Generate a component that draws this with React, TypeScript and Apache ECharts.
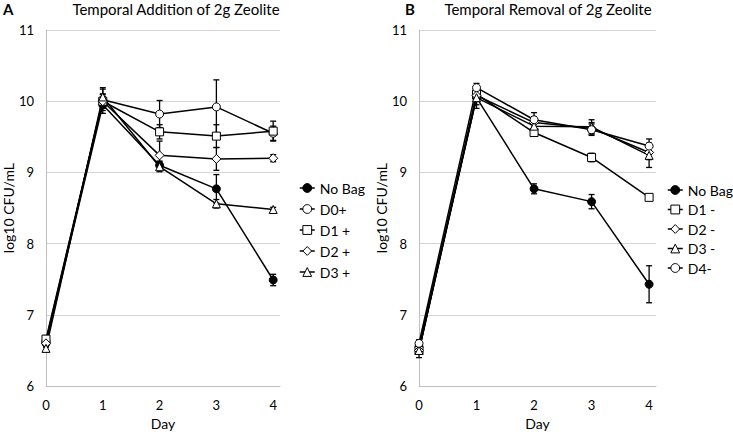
import React, { useEffect, useRef } from "react";
import * as echarts from "echarts";

const days = [0, 1, 2, 3, 4];

// Panel A: Temporal Addition
const namesA = ["No Bag", "D0+", "D1 +", "D2 +", "D3 +"];
const noBagA = [6.6, 9.95, 9.1, 8.77, 7.49];
const noBagAErr = [0.05, 0.12, 0.06, 0.2, 0.08];
const d0A = [6.63, 10.02, 9.82, 9.92, 9.55];
const d0AErr = [0.05, 0.15, 0.19, 0.38, 0.1];
const d1A = [6.66, 10.0, 9.57, 9.51, 9.58];
const d1AErr = [0.05, 0.1, 0.1, 0.16, 0.14];
const d2A = [6.6, 10.0, 9.24, 9.19, 9.2];
const d2AErr = [0.05, 0.1, 0.2, 0.16, 0.05];
const d3A = [6.53, 10.06, 9.08, 8.56, 8.48];
const d3AErr = [0.05, 0.13, 0.07, 0.06, 0.03];

// Panel B: Temporal Removal
const namesB = ["No Bag", "D1 -", "D2 -", "D3 -", "D4-"];
const noBagB = [6.55, 10.05, 8.77, 8.59, 7.43];
const noBagBErr = [0.08, 0.1, 0.07, 0.1, 0.26];
const d1B = [6.5, 10.1, 9.56, 9.21, 8.65];
const d1BErr = [0.05, 0.05, 0.05, 0.06, 0.03];
const d2B = [6.5, 10.08, 9.7, 9.62, 9.28];
const d2BErr = [0.05, 0.05, 0.08, 0.08, 0.1];
const d3B = [6.5, 10.05, 9.65, 9.64, 9.24];
const d3BErr = [0.1, 0.15, 0.1, 0.1, 0.17];
const d4B = [6.6, 10.19, 9.74, 9.6, 9.37];
const d4BErr = [0.05, 0.06, 0.1, 0.08, 0.1];

const titleA = "Temporal Addition of 2g Zeolite";
const titleB = "Temporal Removal of 2g Zeolite";

const FONT = "Lato, 'Open Sans', sans-serif";

const symbolFor: Record<string, [string, number, string]> = {
  nobag: ["circle", 8, "#000"],
  circle: ["circle", 8, "#fff"],
  square: ["rect", 8, "#fff"],
  diamond: ["diamond", 9, "#fff"],
  triangle: ["triangle", 8, "#fff"],
};

function lineSeries(name: string, vals: number[], kind: string, idx: number) {
  const [sym, size, fill] = symbolFor[kind];
  return {
    type: "line",
    name,
    xAxisIndex: idx,
    yAxisIndex: idx,
    data: days.map((d, i) => [d, vals[i]]),
    symbol: sym,
    symbolSize: size,
    showAllSymbol: true,
    lineStyle: { color: "#000", width: 1.5 },
    itemStyle: { color: fill, borderColor: "#000", borderWidth: 1 },
    z: 3,
  };
}

function errSeries(vals: number[], errs: number[], idx: number) {
  return {
    type: "custom",
    xAxisIndex: idx,
    yAxisIndex: idx,
    z: 2,
    silent: true,
    data: days.map((d, i) => [d, vals[i], errs[i]]),
    encode: { x: 0, y: 1 },
    renderItem: (params: any, api: any) => {
      const x = api.value(0);
      const y = api.value(1);
      const e = api.value(2);
      const t = api.coord([x, y + e]);
      const b = api.coord([x, y - e]);
      const w = 3;
      const st = { stroke: "#000", lineWidth: 1.3 };
      return {
        type: "group",
        children: [
          { type: "line", shape: { x1: t[0], y1: t[1], x2: b[0], y2: b[1] }, style: st },
          { type: "line", shape: { x1: t[0] - w, y1: t[1], x2: t[0] + w, y2: t[1] }, style: st },
          { type: "line", shape: { x1: b[0] - w, y1: b[1], x2: b[0] + w, y2: b[1] }, style: st },
        ],
      };
    },
  };
}

function makeXAxis(idx: number) {
  return {
    type: "value",
    gridIndex: idx,
    min: 0,
    max: 4.12,
    interval: 1,
    name: "Day",
    nameLocation: "middle",
    nameGap: 27,
    nameTextStyle: { color: "#000", fontSize: 14, fontFamily: FONT },
    axisLine: { show: true, lineStyle: { color: "#bfbfbf", width: 1 } },
    axisTick: { show: false },
    splitLine: { show: false },
    axisLabel: {
      color: "#000",
      fontSize: 13,
      fontFamily: FONT,
      margin: 12,
      formatter: (v: number) => (Number.isInteger(v) ? String(v) : ""),
    },
  };
}

function makeYAxis(idx: number) {
  return {
    type: "value",
    gridIndex: idx,
    min: 6,
    max: 11,
    interval: 1,
    name: "log10 CFU/mL",
    nameLocation: "middle",
    nameGap: 27,
    nameTextStyle: { color: "#000", fontSize: 14, fontFamily: FONT },
    axisLine: { show: true, lineStyle: { color: "#bfbfbf", width: 1 } },
    axisTick: { show: false },
    splitLine: { show: true, lineStyle: { color: "#d4d4d4", width: 1 } },
    axisLabel: { color: "#000", fontSize: 13, fontFamily: FONT, margin: 12 },
  };
}

export default function App() {
  const ref = useRef<HTMLDivElement>(null);
  useEffect(() => {
    document.body.style.margin = "0";
    if (!ref.current) return;
    const chart = echarts.init(ref.current, undefined, { renderer: "svg" });
    const aSeries: [string, number[], number[], string][] = [
      [namesA[0], noBagA, noBagAErr, "nobag"],
      [namesA[1], d0A, d0AErr, "circle"],
      [namesA[2], d1A, d1AErr, "square"],
      [namesA[3], d2A, d2AErr, "diamond"],
      [namesA[4], d3A, d3AErr, "triangle"],
    ];
    const bSeries: [string, number[], number[], string][] = [
      [namesB[0], noBagB, noBagBErr, "nobag"],
      [namesB[1], d1B, d1BErr, "square"],
      [namesB[2], d2B, d2BErr, "diamond"],
      [namesB[3], d3B, d3BErr, "triangle"],
      [namesB[4], d4B, d4BErr, "circle"],
    ];
    const series: any[] = [];
    aSeries.forEach(([n, v, e]) => series.push(errSeries(v, e, 0)));
    bSeries.forEach(([n, v, e]) => series.push(errSeries(v, e, 1)));
    aSeries.forEach(([n, v, e, k]) => series.push(lineSeries(n, v, k, 0)));
    bSeries.forEach(([n, v, e, k]) => series.push(lineSeries(n, v, k, 1)));

    const legendData = (list: [string, number[], number[], string][]) =>
      list.map(([n, , , k]) => ({
        name: n,
        itemStyle: { color: symbolFor[k][2], borderColor: "#000", borderWidth: 1 },
        lineStyle: { color: "#000", width: 1.5 },
      }));

    const legendCommon = {
      orient: "vertical",
      itemWidth: 15,
      itemHeight: 11,
      padding: 0,
      textStyle: { color: "#000", fontSize: 14, fontFamily: FONT },
      selectedMode: false,
    };

    const txt = (text: string, x: number, bold: boolean, align: string) => ({
      type: "text",
      x,
      y: 9,
      style: {
        text,
        fill: "#000",
        font: `${bold ? "bold " : ""}15px ${FONT}`,
        align,
        verticalAlign: "middle",
      },
    });

    chart.setOption({
      animation: false,
      backgroundColor: "#fff",
      graphic: [
        txt(titleA, 176, false, "center"),
        txt(titleB, 548, false, "center"),
        txt("A", 3, true, "left"),
        txt("B", 405, true, "left"),
      ],
      legend: [
        { ...legendCommon, itemGap: 7, data: legendData(aSeries), left: 299, top: 181 },
        { ...legendCommon, itemGap: 5.5, data: legendData(bSeries), left: 667, top: 183 },
      ],
      grid: [
        { left: 43, top: 30, width: 237, height: 358 },
        { left: 419, top: 30, width: 237, height: 358 },
      ],
      xAxis: [makeXAxis(0), makeXAxis(1)],
      yAxis: [makeYAxis(0), makeYAxis(1)],
      series,
    });
    return () => chart.dispose();
  }, []);
  return <div ref={ref} style={{ width: 733, height: 435 }} />;
}
